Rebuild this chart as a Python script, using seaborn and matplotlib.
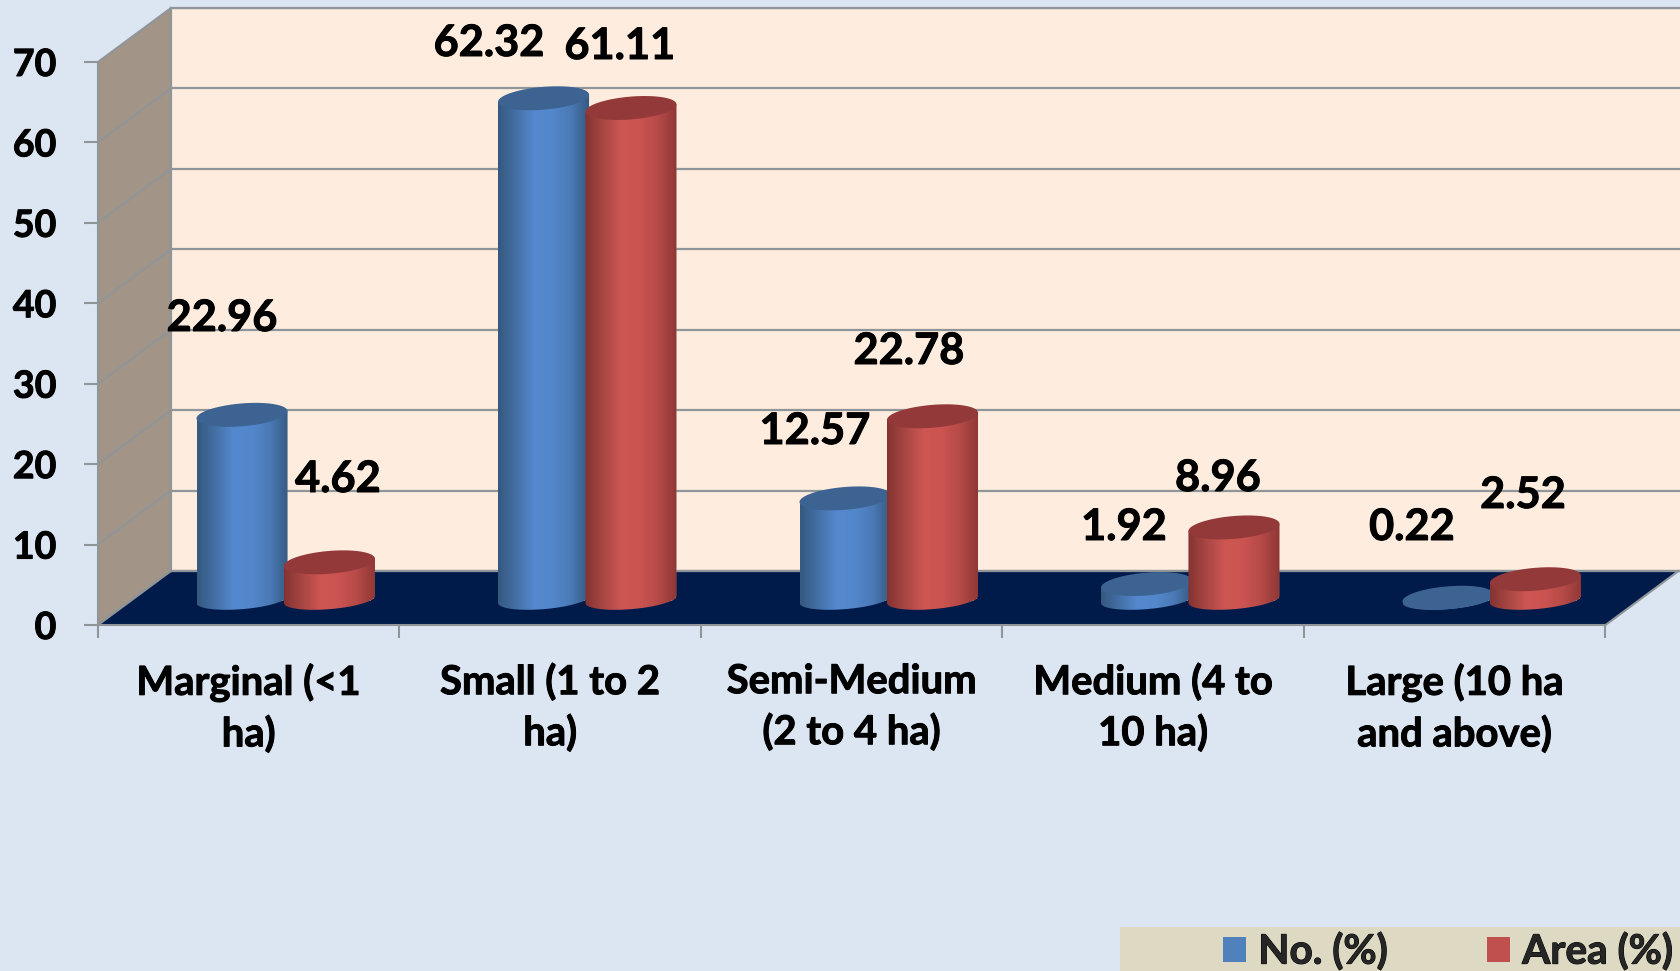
import numpy as np
import pandas as pd
import matplotlib
matplotlib.use("Agg")
import matplotlib.pyplot as plt
import matplotlib.patheffects as pe
from matplotlib.patches import Polygon, Rectangle, Patch
from matplotlib.colors import LinearSegmentedColormap
import seaborn as sns

categories = ["Marginal (<1\nha)", "Small (1 to 2\nha)", "Semi-Medium\n(2 to 4 ha)",
              "Medium (4 to\n10 ha)", "Large (10 ha\nand above)"]
no_pct = [22.96, 62.32, 12.57, 1.92, 0.22]
area_pct = [4.62, 61.11, 22.78, 8.96, 2.52]
y_ticks = [0, 10, 20, 30, 40, 50, 60, 70]

W, H = 1681, 971
# 3d look: front plane, bar plane and back wall are the same scale, shifted
FL, FR, Y0, Y70 = 98.0, 1605.5, 625.0, 62.0
BACK_DX, BACK_DY = 73.0, 54.0
BAR_DX, BAR_DY = 37.0, 25.5
PX_PER_UNIT = (Y0 - Y70) / 70

GRID = "#8F9599"
HEAVY = [pe.withStroke(linewidth=0.7, foreground="black")]

sns.set_theme(style="white")
plt.rcParams["font.family"] = ["Lato", "DejaVu Sans"]
plt.rcParams["font.weight"] = "bold"

fig = plt.figure(figsize=(W / 100, H / 100), dpi=100, facecolor="#DCE6F2")


def px_axes(left, top, right, bottom, z):
    a = fig.add_axes([left / W, 1 - bottom / H, (right - left) / W, (bottom - top) / H], zorder=z)
    a.patch.set_alpha(0)
    return a


# pixel layer for the walls and floor
bg = px_axes(0, 0, W, H, 0)
bg.set_xlim(0, W)
bg.set_ylim(H, 0)
bg.axis("off")

bl, bt, bb = FL + BACK_DX, Y70 - BACK_DY, Y0 - BACK_DY
bg.add_patch(Polygon([(FL, Y0), (FL, Y70), (bl, bt), (bl, bb)], fc="#A29486", ec=GRID, lw=1.5))
bg.add_patch(Polygon([(FL, Y0), (FR, Y0), (FR + BACK_DX, bb), (W + 2, bb), (bl, bb)], fc="#001A4A", ec=GRID, lw=1.5))
for v in y_ticks[1:-1]:
    y = Y0 - v * PX_PER_UNIT
    bg.plot([FL, bl], [y, y - BACK_DY], color=GRID, lw=1.5)
bg.add_patch(Rectangle((1120, 927), W - 1120, H - 927, fc="#DDD9C3", ec="none"))

# back wall
back = px_axes(bl, bt, W + 2, bb, 1)
back.set_facecolor("#FEECDE")
back.patch.set_alpha(1)
back.set_ylim(0, 70)
back.set_yticks(y_ticks)
back.set_yticklabels([])
back.set_xticks([])
back.grid(axis="y", color=GRID, lw=1.6)
for name, sp in back.spines.items():
    sp.set_visible(name in ("left", "top", "bottom"))
    sp.set_color(GRID)
    sp.set_linewidth(1.6)

# front plane carries the axes, ticks and labels
front = px_axes(FL, Y70, FR, Y0, 2)
front.set_xlim(-0.5, 4.5)
front.set_ylim(0, 70)
front.set_yticks(y_ticks)
front.set_xticks(range(5))
front.set_xticklabels(categories, fontsize=28.8, fontweight="bold", linespacing=1.42)
front.set_xticks(np.arange(-0.5, 5), minor=True)
front.tick_params(axis="x", which="major", length=0, pad=27.5, colors="black")
front.tick_params(axis="x", which="minor", length=9, width=1.5, color=GRID, bottom=True)
front.tick_params(axis="y", length=10, width=1.5, color=GRID, left=True, pad=20, labelsize=27, labelcolor="black")
for lab in front.get_yticklabels():
    lab.set_fontweight("bold")
    lab.set_verticalalignment("center_baseline")
    lab.set_path_effects(HEAVY)
for lab in front.get_xticklabels():
    lab.set_path_effects(HEAVY)
for sp in front.spines.values():
    sp.set_visible(False)

# bars, on the plane halfway between the front and the back
df = pd.DataFrame({
    "category": categories * 2,
    "value": no_pct + area_pct,
    "series": ["No. (%)"] * 5 + ["Area (%)"] * 5,
})
palette = {"No. (%)": "#4F81BD", "Area (%)": "#C0504D"}
below = 5
ax = px_axes(FL + BAR_DX, Y70 - BAR_DY, FR + BAR_DX, Y0 - BAR_DY + below * PX_PER_UNIT, 3)
sns.barplot(data=df, x="category", y="value", hue="series", order=categories,
            palette=palette, width=0.58, legend=False, ax=ax)

shades = {
    0: (LinearSegmentedColormap.from_list("b", ["#35597F", "#4470A6", "#5589CF", "#5387CB", "#4A79B5", "#35597F"]), "#3C6391"),
    1: (LinearSegmentedColormap.from_list("r", ["#843331", "#A84744", "#CE5653", "#CB5451", "#B54A47", "#8E3735"]), "#93393A"),
}
a_el = 0.151
b_el, b_base, s_el = 1.42, 1.2, 0.45
t_low = np.linspace(np.pi, 2 * np.pi, 60)
t_all = np.linspace(0, 2 * np.pi, 120)
grad = np.linspace(0, 1, 256).reshape(1, -1)

for i, cont in enumerate(ax.containers):
    cmap, top_col = shades[i]
    for j, bar in enumerate(cont):
        z = 2 + j * 3 + i
        w, v = bar.get_width(), bar.get_height()
        cx = bar.get_x() + w / 2
        xl, xr = cx - a_el, cx + a_el
        body = [(cx + a_el * np.cos(t), b_base * np.sin(t) + s_el * np.cos(t)) for t in t_low]
        body += [(xr, v + s_el), (xl, v - s_el)]
        clip = Polygon(body, transform=ax.transData, fc="none", ec="none")
        ax.add_patch(clip)
        bar.set_clip_path(clip)
        bar.set_zorder(z)
        im = ax.imshow(grad, cmap=cmap, extent=(xl, xr, -3, v + 2), aspect="auto", zorder=z + 0.1)
        im.set_clip_path(clip)
        ax.add_patch(Polygon([(cx + a_el * np.cos(t), v + b_el * np.sin(t) + s_el * np.cos(t)) for t in t_all],
                             fc=top_col, ec="none", zorder=z + 0.2))

ax.set_xlim(-0.5, 4.5)
ax.set_ylim(-below, 70)
ax.axis("off")

# value labels, placed by hand like the original
label_xy = [(222, 318), (338, 479), (489, 43), (620, 46), (815, 431),
            (909, 351), (1124, 527), (1218, 478), (1412, 527), (1523, 495)]
label_vals = [no_pct[0], area_pct[0], no_pct[1], area_pct[1], no_pct[2],
              area_pct[2], no_pct[3], area_pct[3], no_pct[4], area_pct[4]]
for (x, y), v in zip(label_xy, label_vals):
    fig.text(x / W, 1 - y / H, f"{v:.2f}", fontsize=31.2, fontweight="bold", color="black",
             ha="center", va="center", zorder=5, path_effects=HEAVY)

leg = fig.legend(handles=[Patch(fc=palette[k], ec="none", label=k) for k in palette],
                 loc="lower right", bbox_to_anchor=(1.0, -0.008), ncol=2, frameon=False,
                 prop={"size": 29.2, "weight": "bold"}, handlelength=0.58, handleheight=0.58,
                 columnspacing=2.45, handletextpad=0.29, borderpad=0.1, borderaxespad=0.1)
for t in leg.get_texts():
    t.set_path_effects(HEAVY)

fig.savefig("out.png", dpi=100, facecolor=fig.get_facecolor())
